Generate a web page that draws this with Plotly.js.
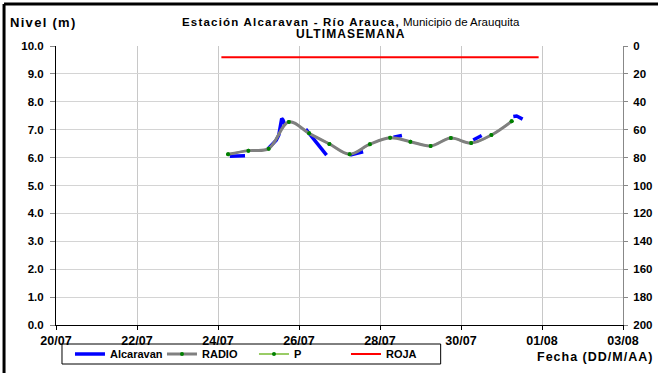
<!DOCTYPE html>
<html>
<head>
<meta charset="utf-8">
<script src="https://cdn.plot.ly/plotly-3.0.1.min.js"></script>
<style>html,body{margin:0;padding:0;background:#fff;}#chart{width:658px;height:373px;}</style>
</head>
<body>
<div id="chart"></div>
<script>
// Alcaravan (blue) – segments separated by gaps (null)
const alcDates = [
  "2024-07-24 07:00","2024-07-24 11:00","2024-07-24 16:00","2024-07-24 20:00",
  "2024-07-25 05:30","2024-07-25 08:00","2024-07-25 10:30","2024-07-25 12:00","2024-07-25 13:45","2024-07-25 14:30","2024-07-25 15:30","2024-07-25 20:00",
  "2024-07-26 04:00","2024-07-26 10:00","2024-07-26 16:20","2024-07-26 22:00",
  "2024-07-27 06:15","2024-07-27 14:00","2024-07-27 20:00",
  "2024-07-28 08:00","2024-07-28 13:00","2024-07-28 20:00",
  "2024-07-30 07:15","2024-07-30 12:15","2024-07-30 20:00",
  "2024-07-31 07:00","2024-07-31 09:00","2024-07-31 12:30"
];
const alcValues = [
  6.05, 6.06, 6.07, null,
  6.31, 6.45, 6.62, 6.80, 7.40, 7.35, 7.18, null,
  7.02, 6.55, 6.09, null,
  6.09, 6.21, null,
  6.73, 6.79, null,
  6.63, 6.79, null,
  7.47, 7.49, 7.38
];
// RADIO / P readings (twice daily)
const radioDates = [
  "2024-07-24 06:00","2024-07-24 18:00","2024-07-25 06:00","2024-07-25 18:00",
  "2024-07-26 06:00","2024-07-26 18:00","2024-07-27 06:00","2024-07-27 18:00",
  "2024-07-28 06:00","2024-07-28 18:00","2024-07-29 06:00","2024-07-29 18:00",
  "2024-07-30 06:00","2024-07-30 18:00","2024-07-31 06:00"
];
const radioValues = [6.12, 6.25, 6.32, 7.28, 6.87, 6.49, 6.12, 6.48, 6.71, 6.57, 6.42, 6.70, 6.52, 6.81, 7.30];
const pValues = [6.12, 6.25, 6.32, 7.28, 6.87, 6.49, 6.12, 6.48, 6.71, 6.57, 6.42, 6.70, 6.52, 6.81, 7.30];
// ROJA (alert level)
const rojaDates = ["2024-07-24 02:00", "2024-07-31 22:00"];
const rojaValues = [9.6, 9.6];
// axis ranges
const xRange = ["2024-07-20", "2024-08-03"];
const yRange = [0, 10];
const y2Range = [200, 0];

const FONT = "Liberation Sans, Arial, sans-serif";
const sp = (t, ls) => '<span style="letter-spacing:' + ls + 'px">' + t + '</span>';

const traces = [
  {name: "Alcaravan", x: alcDates, y: alcValues, type: "scatter", mode: "lines",
   line: {color: "#0000ff", width: 3.5}, connectgaps: false, legendrank: 1},
  {name: "P", x: radioDates, y: pValues, type: "scatter", mode: "lines+markers",
   line: {color: "#99cc66", width: 2, shape: "spline"}, marker: {color: "#008000", size: 4}, legendrank: 3},
  {name: "RADIO", x: radioDates, y: radioValues, type: "scatter", mode: "lines+markers",
   line: {color: "#808080", width: 3, shape: "spline", smoothing: 1}, marker: {color: "#008000", size: 4}, legendrank: 2},
  {name: "ROJA", x: rojaDates, y: rojaValues, type: "scatter", mode: "lines",
   line: {color: "#ff0000", width: 2}, legendrank: 4},
  // carrier for the right-hand axis (invisible)
  {name: "y2", x: xRange, y: y2Range, yaxis: "y2", type: "scatter", mode: "lines",
   line: {width: 0}, opacity: 0, showlegend: false, hoverinfo: "skip"}
];

// plot area: x 56..623.5 px, y 46..325 px
const L = 56, R = 623.5, T = 46, B = 325, W = 658, H = 373;
const px = v => (v - L) / (R - L);
const py = v => (B - v) / (B - T);

const layout = {
  width: W, height: H,
  margin: {l: L, r: W - R, t: T, b: H - B, pad: 0, autoexpand: false},
  paper_bgcolor: "#fff", plot_bgcolor: "#fff",
  font: {family: FONT, size: 11, color: "#000"},
  showlegend: true,
  xaxis: {
    type: "date", range: xRange, tick0: "2024-07-20", dtick: 172800000, tickformat: "%d/%m",
    showgrid: true, gridcolor: "#c8c8c8", gridwidth: 1,
    showline: true, linecolor: "#000", linewidth: 1,
    ticks: "outside", ticklen: 4, tickcolor: "#000", ticklabelstandoff: 0,
    tickfont: {family: FONT, size: 12.5, weight: "bold"}, zeroline: false, fixedrange: true, automargin: false
  },
  yaxis: {
    range: yRange, dtick: 1, tickformat: ".1f",
    showgrid: true, gridcolor: "#d4d4d4", gridwidth: 1,
    showline: true, linecolor: "#000", linewidth: 1,
    ticks: "outside", ticklen: 5, tickcolor: "#888", ticklabelstandoff: 4,
    tickfont: {family: FONT, size: 11.5, weight: "bold"}, zeroline: false, automargin: false
  },
  yaxis2: {
    overlaying: "y", side: "right", range: y2Range, dtick: 20,
    showgrid: false, showline: true, linecolor: "#888", linewidth: 1,
    ticks: "outside", ticklen: 4, tickcolor: "#888", ticklabelstandoff: 3,
    tickfont: {family: FONT, size: 11.5, weight: "bold"}, zeroline: false, automargin: false
  },
  legend: {
    orientation: "h", x: px(70), y: py(354), xanchor: "left", yanchor: "middle",
    borderwidth: 0, bgcolor: "rgba(0,0,0,0)",
    font: {family: FONT, size: 11, weight: "bold"},
    entrywidth: 47, entrywidthmode: "pixels", itemwidth: 30, tracegroupgap: 0
  },
  annotations: [
    {xref: "paper", yref: "paper", x: px(351), y: py(22), xanchor: "center", yanchor: "middle", showarrow: false,
     text: "<b>" + sp("Estación Alcaravan - Río Arauca,", 1.2) + "</b> Municipio de Arauquita", font: {family: FONT, size: 11.5}},
    {xref: "paper", yref: "paper", x: px(351), y: py(34), xanchor: "center", yanchor: "middle", showarrow: false,
     text: "<b>" + sp("ULTIMASEMANA", 1.1) + "</b>", font: {family: FONT, size: 12}},
    {xref: "paper", yref: "paper", x: px(8), y: py(22), xanchor: "left", yanchor: "middle", showarrow: false,
     text: "<b>" + sp("Nivel (m)", 1.3) + "</b>", font: {family: FONT, size: 13}},
    {xref: "paper", yref: "paper", x: px(656), y: py(357), xanchor: "right", yanchor: "middle", showarrow: false,
     text: "<b>" + sp("Fecha (DD/M/AA)", 1.0) + "</b>", font: {family: FONT, size: 12.5}}
  ],
  shapes: [
    {type: "line", xref: "paper", yref: "paper", x0: px(4), x1: px(660), y0: py(4), y1: py(4), line: {color: "#000", width: 3}},
    {type: "line", xref: "paper", yref: "paper", x0: px(4), x1: px(4), y0: py(4), y1: py(375), line: {color: "#000", width: 3}},
    // legend frame
    {type: "rect", xref: "paper", yref: "paper", x0: px(62), x1: px(441), y0: py(344), y1: py(364),
     line: {color: "#000", width: 1}, fillcolor: "rgba(0,0,0,0)"}
  ]
};

Plotly.newPlot("chart", traces, layout, {staticPlot: true, displayModeBar: false});
</script>
</body>
</html>
